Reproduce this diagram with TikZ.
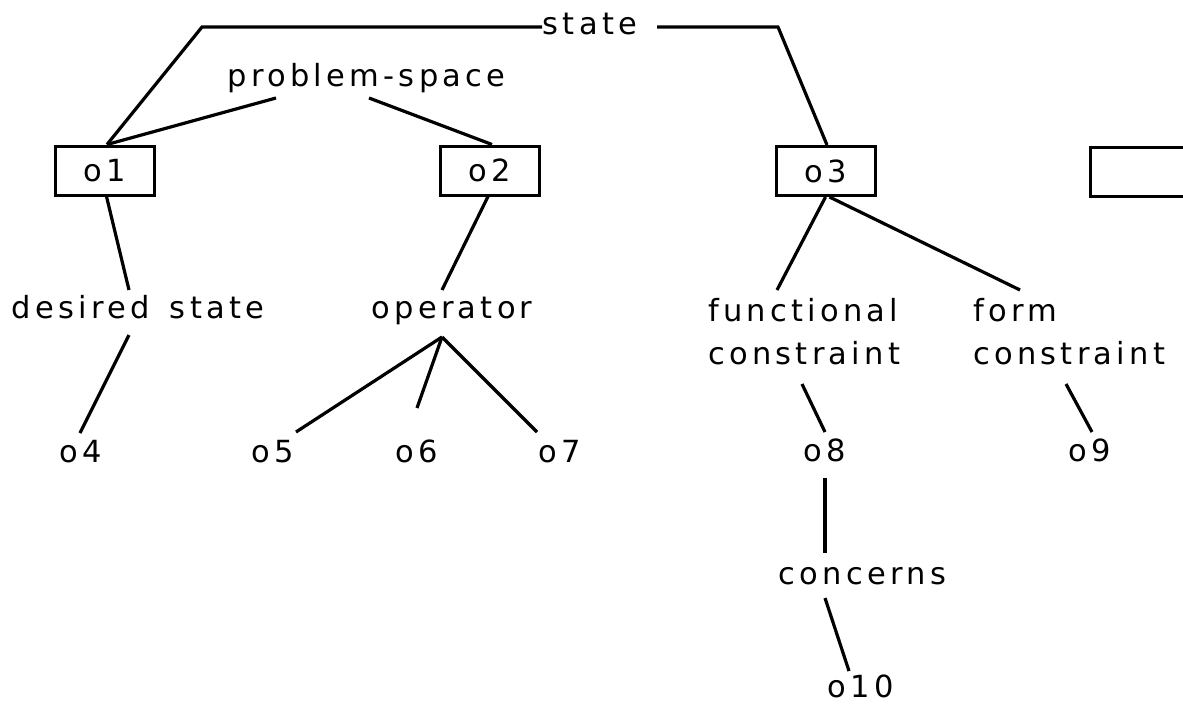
\documentclass[tikz,border=0pt]{standalone}
\usepackage{fontspec}
\setmainfont{DejaVu Sans}[LetterSpace=14]
\usetikzlibrary{calc}
\begin{document}
\begin{tikzpicture}[x=1pt,y=-1pt,
  every node/.style={inner sep=0pt,font=\fontsize{30.5}{36}\selectfont},
  lbl/.style={anchor=base},
  lblw/.style={anchor=base west},
  obj/.style={draw,line width=3pt,minimum width=99pt,minimum height=49pt},
  link/.style={line width=3.2pt}]
\useasboundingbox (0,0) rectangle (1183,704);
\clip (0,0) rectangle (1183,704);

% labelled objects
\node[obj] (o1) at (104.5,170.5) {o1};
\node[obj] (o2) at (490,170.5) {o2};
\node[obj] (o3) at (825.5,171) {o3};
\node[obj] (o0) at (1139.5,171.5) {};

% attribute labels
\node[lbl] (st) at (590,34) {state};
\node[lbl] (ps) at (366.5,86) {problem-space};
\node[lbl] (ds) at (138,318) {desired\hspace{6pt} state};
\node[lbl] (op) at (452,318) {operator};
\node[lblw] (fc1) at (708,321) {functional};
\node[lblw] (fc2) at (708,364) {constraint};
\node[lblw] (fm1) at (973,321) {form};
\node[lblw] (fm2) at (973,364) {constraint};
\node[lbl] (con) at (862.5,584) {concerns};

% value objects
\node[lbl] (o4) at (81,462) {o4};
\node[lbl] (o5) at (272.5,462) {o5};
\node[lbl] (o6) at (417,462) {o6};
\node[lbl] (o7) at (560,462) {o7};
\node[lbl] (o8) at (825,461) {o8};
\node[lbl] (o9) at (1090,461) {o9};
\node[lbl] (o10) at (860.5,697) {o10};

% connectors
\draw[link] ($(st.base)+(-48,-7)$) -- ++(-340,0) -- ([xshift=2.5pt]o1.north);
\draw[link] ($(st.base)+(67,-7)$) -- ++(121,0) -- ([xshift=1.5pt]o3.north);
\draw[link] ($(ps.base)+(-90.5,12)$) -- ([xshift=2.5pt]o1.north);
\draw[link] ($(ps.base)+(2.5,12)$) -- ([xshift=2pt]o2.north);
\draw[link] ([xshift=2pt]o1.south) -- ($(ds.base)+(-9,-28)$);
\draw[link] ($(ds.base)+(-9,17)$) -- ($(o4.base)+(-1,-29)$);
\draw[link] ([xshift=-2pt]o2.south) -- ($(op.base)+(-10,-28)$);
\draw[link] ($(op.base)+(-10,19)$) -- ($(o5.base)+(23.5,-30)$);
\draw[link] ($(op.base)+(-10,19)$) -- ($(o6.base)+(0,-54)$);
\draw[link] ($(op.base)+(-10,19)$) -- ($(o7.base)+(-23,-30)$);
\draw[link] (o3.south) -- ($(fc1.base west)+(69,-31)$);
\draw[link] ([xshift=4pt]o3.south) -- ($(fm1.base west)+(47,-31)$);
\draw[link] ($(fc2.base west)+(94,20)$) -- ($(o8.base)+(0,-29)$);
\draw[link] ($(fm2.base west)+(93,20)$) -- ($(o9.base)+(2,-29)$);
\draw[link] ($(o8.base)+(0,17)$) -- ($(con.base)+(-37.5,-31)$);
\draw[link] ($(con.base)+(-37.5,14)$) -- ($(o10.base)+(-11.5,-26)$);
\end{tikzpicture}
\end{document}
